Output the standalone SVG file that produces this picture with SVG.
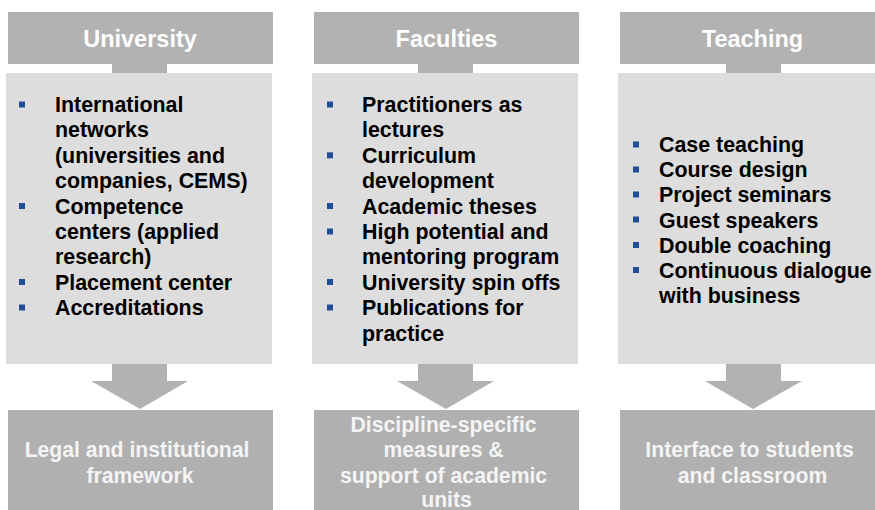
<svg xmlns="http://www.w3.org/2000/svg" width="875" height="510" viewBox="0 0 875 510">
  <style>
    .head { fill: #b2b2b2; }
    .body { fill: #dddddd; }
    .foot { fill: #b0b0b0; }
    .link { fill: #b2b2b2; }
    .bullet { fill: #1f4e96; }
    text { font-family: "Liberation Sans", Arial, sans-serif; font-weight: bold; }
    .title { fill: #ffffff; font-size: 23.5px; text-anchor: middle; }
    .item { fill: #000000; font-size: 21.4px; }
    .label { fill: #f4f4f4; font-size: 21.2px; text-anchor: middle; }
  </style>
  <rect width="875" height="510" fill="#ffffff"/>

  <!-- connectors: header stubs and downward arrows -->
  <g id="connectors">
    <rect class="link" x="112" y="63" width="55" height="11"/>
    <rect class="link" x="418" y="63" width="55" height="11"/>
    <rect class="link" x="726" y="63" width="55" height="11"/>
    <polygon class="link" points="112,364 167,364 167,381 188,381 140,409 91,381 112,381"/>
    <polygon class="link" points="418,364 473,364 473,381 494,381 446,409 397,381 418,381"/>
    <polygon class="link" points="726,364 781,364 781,381 802,381 753,409 705,381 726,381"/>
  </g>

  <!-- University column -->
  <g id="university-header">
    <rect class="head" x="8" y="12" width="265" height="52"/>
    <text class="title" x="140" y="46.5">University</text>
  </g>
  <g id="university-body">
    <rect class="body" x="6" y="73" width="266" height="291"/>
    <rect class="bullet" x="19" y="101.5" width="6" height="6"/>
    <rect class="bullet" x="19" y="203" width="6" height="6"/>
    <rect class="bullet" x="19" y="279" width="6" height="6"/>
    <rect class="bullet" x="19" y="304.5" width="6" height="6"/>
    <text class="item" x="55" y="112">
      <tspan x="55" y="112">International</tspan>
      <tspan x="55" y="137.4">networks</tspan>
      <tspan x="55" y="162.8">(universities and</tspan>
      <tspan x="55" y="188.2">companies, CEMS)</tspan>
      <tspan x="55" y="213.6">Competence</tspan>
      <tspan x="55" y="239">centers (applied</tspan>
      <tspan x="55" y="264.4">research)</tspan>
      <tspan x="55" y="289.8">Placement center</tspan>
      <tspan x="55" y="315.2">Accreditations</tspan>
    </text>
  </g>
  <g id="university-footer">
    <rect class="foot" x="8" y="410" width="265" height="100"/>
    <text class="label" x="140" y="456.5">
      <tspan x="140" y="456.5">Legal and institutional</tspan>
      <tspan x="140" y="482.5">framework</tspan>
    </text>
  </g>

  <!-- Faculties column -->
  <g id="faculties-header">
    <rect class="head" x="314" y="12" width="265" height="52"/>
    <text class="title" x="446.5" y="46.5">Faculties</text>
  </g>
  <g id="faculties-body">
    <rect class="body" x="312" y="73" width="266" height="291"/>
    <rect class="bullet" x="327" y="101.5" width="6" height="6"/>
    <rect class="bullet" x="327" y="152.3" width="6" height="6"/>
    <rect class="bullet" x="327" y="203" width="6" height="6"/>
    <rect class="bullet" x="327" y="228.5" width="6" height="6"/>
    <rect class="bullet" x="327" y="279" width="6" height="6"/>
    <rect class="bullet" x="327" y="304.5" width="6" height="6"/>
    <text class="item" x="362" y="112">
      <tspan x="362" y="112">Practitioners as</tspan>
      <tspan x="362" y="137.4">lectures</tspan>
      <tspan x="362" y="162.8">Curriculum</tspan>
      <tspan x="362" y="188.2">development</tspan>
      <tspan x="362" y="213.6">Academic theses</tspan>
      <tspan x="362" y="239">High potential and</tspan>
      <tspan x="362" y="264.4">mentoring program</tspan>
      <tspan x="362" y="289.8">University spin offs</tspan>
      <tspan x="362" y="315.2">Publications for</tspan>
      <tspan x="362" y="340.6">practice</tspan>
    </text>
  </g>
  <g id="faculties-footer">
    <rect class="foot" x="314" y="410" width="265" height="100"/>
    <text class="label" x="446.5" y="431.5">
      <tspan x="446.5" y="431.5">Discipline-specific</tspan>
      <tspan x="446.5" y="456.5">measures &amp;</tspan>
      <tspan x="446.5" y="482.5">support of academic</tspan>
      <tspan x="446.5" y="507">units</tspan>
    </text>
  </g>

  <!-- Teaching column -->
  <g id="teaching-header">
    <rect class="head" x="620" y="12" width="265" height="52"/>
    <text class="title" x="752.5" y="46.5">Teaching</text>
  </g>
  <g id="teaching-body">
    <rect class="body" x="618" y="73" width="266" height="291"/>
    <rect class="bullet" x="633" y="141.5" width="6" height="6"/>
    <rect class="bullet" x="633" y="166.5" width="6" height="6"/>
    <rect class="bullet" x="633" y="191.5" width="6" height="6"/>
    <rect class="bullet" x="633" y="216.5" width="6" height="6"/>
    <rect class="bullet" x="633" y="242" width="6" height="6"/>
    <rect class="bullet" x="633" y="267" width="6" height="6"/>
    <text class="item" x="659" y="152">
      <tspan x="659" y="152">Case teaching</tspan>
      <tspan x="659" y="177.2">Course design</tspan>
      <tspan x="659" y="202.4">Project seminars</tspan>
      <tspan x="659" y="227.6">Guest speakers</tspan>
      <tspan x="659" y="252.8">Double coaching</tspan>
      <tspan x="659" y="278">Continuous dialogue</tspan>
      <tspan x="659" y="303.2">with business</tspan>
    </text>
  </g>
  <g id="teaching-footer">
    <rect class="foot" x="620" y="410" width="265" height="100"/>
    <text class="label" x="752.5" y="456.5">
      <tspan x="752.5" y="456.5">Interface to students</tspan>
      <tspan x="752.5" y="482.5">and classroom</tspan>
    </text>
  </g>
</svg>
